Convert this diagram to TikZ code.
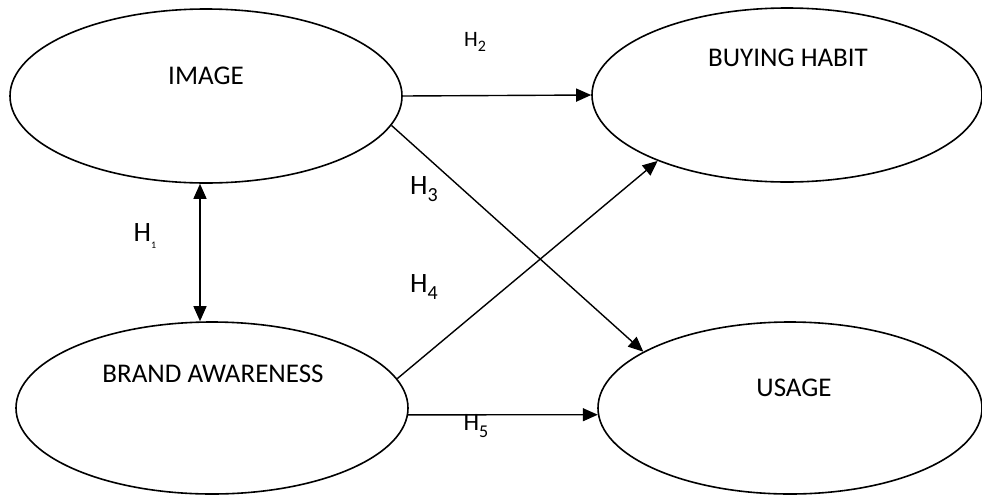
\documentclass[tikz,border=0pt]{standalone}
\usepackage{fontspec}
\setmainfont{Carlito}
\usetikzlibrary{arrows.meta,shapes.geometric}
\newcommand{\hyp}[4]{{\fontsize{#1}{#1}\selectfont H\raisebox{-0.25em}{\fontsize{#2}{#2}\selectfont #3}#4}}
\begin{document}
\begin{tikzpicture}[x=1pt,y=-1pt,
  ell/.style={draw,ellipse,line width=1.6pt,inner sep=0pt},
  lbl/.style={font=\fontsize{27}{32}\selectfont,inner sep=0pt},
  hl/.style={inner sep=0pt},
  con/.style={line width=1.4pt,-{Triangle[length=15pt,width=13pt]}},
  bicon/.style={line width=1.4pt,{Triangle[length=15pt,width=13pt]}-{Triangle[length=15pt,width=13pt]}}]
\useasboundingbox (0,0) rectangle (982,496);
\node[ell,minimum width=392pt,minimum height=174pt] (img) at (206,96) {};
\node[ell,minimum width=390pt,minimum height=174pt] (bh) at (787,95) {};
\node[ell,minimum width=392pt,minimum height=172pt] (br) at (212,408) {};
\node[ell,minimum width=384pt,minimum height=172pt] (us) at (790,408) {};
\node[lbl] (timg) at (206,76) {IMAGE};
\node[lbl] (tbh) at (788,58) {BUYING HABIT};
\node[lbl] (tbr) at (213,374) {BRAND AWARENESS};
\node[lbl] (tus) at (794,388) {USAGE};
\coordinate (h1x) at (200,0);
\draw[bicon] (img.south -| h1x) -- (br.north -| h1x);
\draw[con] (img.east) -- (bh.west);
\draw[con] (img.-9) -- (us.159.5);
\draw[con] (br.9) -- (bh.207.5);
\draw[con] (br.-2) -- (us.182);
\node[hl] (h1) at (145,236) {\hyp{28}{10}{1}{}};
\node[hl] (h2) at (475,42) {\hyp{22}{16}{2}{}};
\node[hl] (h3) at (424,189) {\hyp{28}{20}{3}{}};
\node[hl] (h4) at (424,287) {\hyp{28}{20}{4}{}};
\node[hl] (h5) at (476,426) {\hyp{25}{18}{5}{}};
\end{tikzpicture}
\end{document}
